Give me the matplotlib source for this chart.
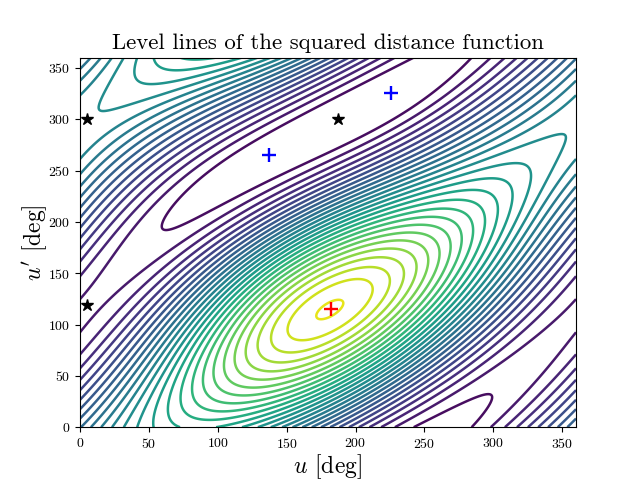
import numpy as np
import matplotlib
matplotlib.use('Agg')
import matplotlib.pyplot as plt

plt.rcParams['font.family'] = ['cmr10', 'DejaVu Serif']
plt.rcParams['mathtext.fontset'] = 'cm'
plt.rcParams['axes.formatter.use_mathtext'] = True

# critical points (deg)
star_u = [5, 5, 187]
star_v = [119, 300, 300]
plus_u = [137, 225.5]
plus_v = [265, 325.5]
max_u = [182]
max_v = [115]

n_levels = 28

# level line readings (level number, u, v), outer valley first
valley_lines = [
    (1, 59.3, 193.7), (1, 96.8, 216.4), (1, 121, 274.9), (1, 181.4, 274.9), (1, 181.4, 317),
    (1, 239.5, 360), (1, 239.5, 0), (1, 287, 360), (1, 287, 0), (1, 308.5, 42.8),
    (2, 0, 128), (2, 360, 126), (2, 32.7, 182.4), (2, 0, 97), (2, 360, 95), (2, 13, 115), (2, 348, 115),
    (2, 230, 0), (2, 227, 360), (2, 300, 0), (2, 299, 360), (2, 181.4, 260.6), (2, 181.4, 326.5),
    (3, 218, 0), (3, 216, 360), (3, 309, 0), (3, 309, 360), (3, 0, 150), (3, 29, 115), (3, 336, 115),
    (3, 181.4, 250.8), (3, 181.4, 334),
    (4, 210, 0), (4, 317, 0), (4, 317, 360), (4, 0, 164.5), (4, 181.4, 242), (4, 181.4, 341),
    (5, 325, 0), (5, 325, 360), (6, 332, 0), (6, 333, 360), (7, 339, 0), (7, 341, 360),
    (8, 346.5, 0), (8, 348, 360), (9, 352, 0), (9, 355, 360),
]
# lines around the peak: tips at both ends of each closed curve
peak_lines = [
    (13, 0, 266.8), (13, 0, 320),
    (14, 31.2, 0), (14, 346.9, 277), (14, 22.3, 326.8),
    (15, 42, 0), (15, 326.6, 250.5), (15, 41, 349.6),
    (16, 54.4, 7), (16, 313.3, 233), (16, 56.6, 358),
    (17, 64.6, 19.7), (17, 302.4, 223.2),
    (18, 73.3, 30.4), (18, 292.5, 209.9),
    (19, 81.3, 39.2), (19, 284.3, 203.8),
    (20, 89.3, 47.9), (20, 275.1, 193),
    (21, 97.3, 54.1), (21, 267.1, 180.7),
    (22, 105.6, 62.5), (22, 259.1, 175.5),
    (23, 113.7, 67.4), (23, 251.6, 169.7),
    (24, 121.9, 73.2), (24, 243.1, 164.8),
    (25, 129.9, 82), (25, 234.4, 153.1),
    (26, 139.9, 87.9), (26, 224.3, 144.3), (26, 153.6, 73.5), (26, 176.4, 77.1),
    (27, 152, 95.6), (27, 212.3, 135.6), (27, 158.2, 85.9), (27, 181.4, 94.7),
    (27, 162.1, 117.4), (27, 181.4, 136.8), (27, 203.2, 114.2),
    (28, 172.2, 109.3), (28, 192.3, 123.9), (28, 181.4, 120.7), (28, 179, 106.1),
]


def basis(u, v):
    a, b = np.radians(u), np.radians(v)
    return np.array([np.cos(a), np.sin(a), np.cos(2*a), np.sin(2*a),
                     np.cos(b), np.sin(b), np.cos(2*b), np.sin(2*b),
                     np.cos(a)*np.cos(b), np.cos(a)*np.sin(b),
                     np.sin(a)*np.cos(b), np.sin(a)*np.sin(b)])


def fit_field():
    """Least squares fit of the squared distance terms to the level line readings"""
    rows, rhs = [], []
    for k, u, v in valley_lines + peak_lines:
        rows.append(np.r_[basis(u, v), -1.0])
        rhs.append(k)
    # gradient vanishes at the critical points
    eps = 0.5
    weight = 10.0
    for u, v in zip(star_u + plus_u + max_u, star_v + plus_v + max_v):
        rows.append(np.r_[weight*(basis(u+eps, v)-basis(u-eps, v))/(2*eps), 0.0])
        rhs.append(0.0)
        rows.append(np.r_[weight*(basis(u, v+eps)-basis(u, v-eps))/(2*eps), 0.0])
        rhs.append(0.0)
    sol, *_ = np.linalg.lstsq(np.array(rows), np.array(rhs), rcond=None)
    return sol


coef = fit_field()
U, V = np.meshgrid(np.linspace(0, 360, 721), np.linspace(0, 360, 721))
D = np.tensordot(coef[:12], basis(U, V), axes=1) - coef[12]

fig, ax = plt.subplots()
levels = np.arange(1, n_levels + 1) - 0.06  # fit peak sits a bit low
ax.contour(U, V, D, levels=levels, cmap='viridis', vmin=0, vmax=n_levels + 1, linewidths=1.8)
ax.plot(star_u, star_v, 'k*', ms=9)
ax.plot(plus_u, plus_v, 'b+', ms=10, mew=1.7)
ax.plot(max_u, max_v, 'r+', ms=10, mew=1.7)
ax.set_xlim(0, 360)
ax.set_ylim(0, 360)
ax.set_xticks(range(0, 351, 50))
ax.set_yticks(range(0, 351, 50))
ax.set_xlabel(r"$u$ [deg]", fontsize=17, labelpad=1)
ax.set_ylabel(r"$u'$ [deg]", fontsize=17, labelpad=-1)
ax.set_title('Level lines of the squared distance function', fontsize=16.4)
fig.savefig('out.png', dpi=100)
